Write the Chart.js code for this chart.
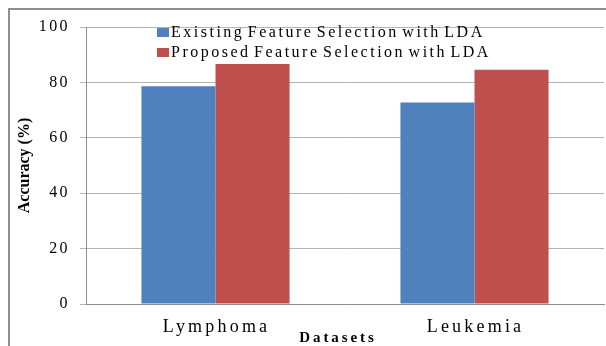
<!DOCTYPE html>
<html><head><meta charset="utf-8">
<script src="https://cdn.jsdelivr.net/npm/chart.js@4.4.0/dist/chart.umd.min.js"></script>
<style>
html,body{margin:0;padding:0;background:#fff;width:606px;height:346px;overflow:hidden}
#wrap{position:relative;width:606px;height:346px;overflow:hidden}
#frame{position:absolute;left:8px;top:8px;width:700px;height:400px;border-top:2px solid #8e8e8e;border-left:2px solid #8e8e8e;}
canvas{position:absolute;left:0;top:0}
#legend{position:absolute;left:157px;top:22px;font-family:"Liberation Serif",serif;font-size:16px;letter-spacing:2.5px;word-spacing:-3px;color:#000;line-height:20px}
.item{display:flex;align-items:center;white-space:nowrap;height:20px}
.sw{width:12px;height:9px;margin-right:2px;display:inline-block}
</style>
</head><body>
<div id="wrap">
<div id="frame"></div>
<canvas id="c" width="606" height="346"></canvas>
<div id="legend"></div>
</div>
<script>
const categories = ['Lymphoma', 'Leukemia'];
const seriesNames = ['Existing Feature Selection with LDA', 'Proposed Feature Selection with LDA'];
const existingValues = [78.6, 72.7];
const proposedValues = [86.6, 84.6];
const yTicks = [0, 20, 40, 60, 80, 100];
const seriesColors = ['#4F81BD', '#C0504D'];
const xTitle = 'Datasets';
const yTitle = 'Accuracy (%)';

const spacingPlugin = {
  id: 'spacing',
  beforeDraw(chart) {
    const set = (scale, fn, ls, dx) => {
      if (scale['_p_' + fn]) return;
      const orig = scale[fn];
      scale[fn] = function (...a) {
        const c = this.ctx; const prev = c.letterSpacing;
        c.save(); c.translate(dx || 0, 0);
        c.letterSpacing = ls; orig.apply(this, a); c.letterSpacing = prev;
        c.restore();
      };
      scale['_p_' + fn] = true;
    };
    set(chart.scales.x, 'drawLabels', '3.2px', 1);
    set(chart.scales.x, 'drawTitle', '2.9px', -7);
    set(chart.scales.y, 'drawLabels', '2.4px', 0);
    set(chart.scales.y, 'drawTitle', '0px', 0);
  }
};

const chart = new Chart(document.getElementById('c'), {
  type: 'bar',
  data: {
    labels: categories,
    datasets: [
      { label: seriesNames[0], data: existingValues, backgroundColor: seriesColors[0] },
      { label: seriesNames[1], data: proposedValues, backgroundColor: seriesColors[1] }
    ]
  },
  options: {
    responsive: false,
    animation: false,
    devicePixelRatio: 1,
    layout: { padding: { left: 9, top: 27, right: 2, bottom: 0 } },
    datasets: { bar: { barPercentage: 1, categoryPercentage: 0.572 } },
    plugins: { legend: { display: false }, tooltip: { enabled: false } },
    scales: {
      x: {
        grid: { display: false, drawTicks: false },
        border: { display: true, color: '#8c8c8c', width: 1 },
        ticks: { font: { family: 'Liberation Serif', size: 18 }, color: '#000', padding: 12 },
        title: { display: true, text: xTitle, font: { family: 'Liberation Serif', size: 15, weight: 'bold', lineHeight: 1 }, color: '#000', padding: 0 },
        afterFit(s) { s.height = 42; }
      },
      y: {
        min: 0, max: 100,
        afterBuildTicks(s) { s.ticks = yTicks.map(v => ({ value: v })); },
        ticks: { font: { family: 'Liberation Serif', size: 16 }, color: '#000', padding: 10 },
        grid: { color: '#b4b4b4', tickLength: 6 },
        border: { color: '#8c8c8c', width: 1 },
        title: { display: true, text: yTitle, font: { family: 'Liberation Serif', size: 16, weight: 'bold' }, color: '#000', padding: { top: 6, bottom: 0 } },
        afterFit(s) { s.width = 77; }
      }
    }
  },
  plugins: [spacingPlugin]
});

const lg = document.getElementById('legend');
chart.data.datasets.forEach(ds => {
  const it = document.createElement('div'); it.className = 'item';
  const sw = document.createElement('span'); sw.className = 'sw'; sw.style.background = ds.backgroundColor;
  const tx = document.createElement('span'); tx.textContent = ds.label;
  it.appendChild(sw); it.appendChild(tx); lg.appendChild(it);
});
</script>
</body></html>
